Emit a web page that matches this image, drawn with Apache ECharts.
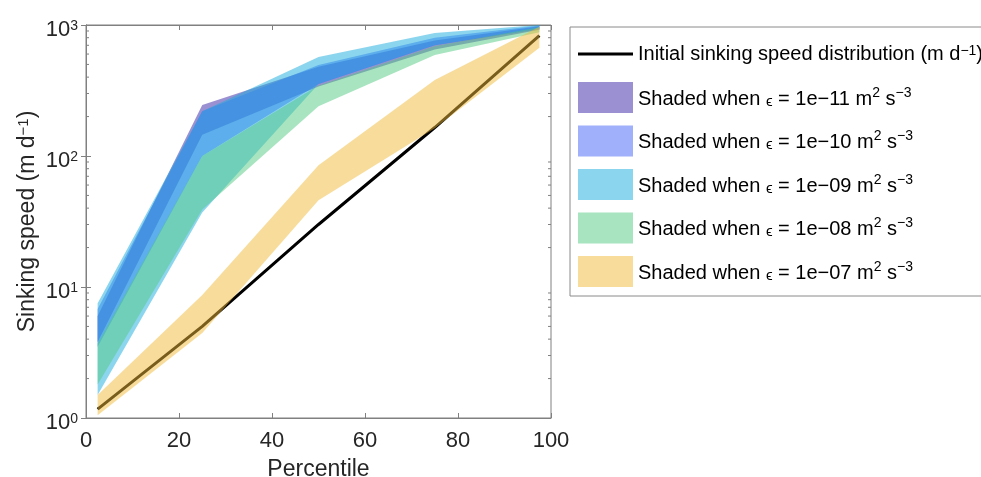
<!DOCTYPE html>
<html>
<head>
<meta charset="utf-8">
<script src="https://cdn.jsdelivr.net/npm/echarts@6/dist/echarts.min.js"></script>
<style>
  html, body { margin: 0; padding: 0; background: #fff; }
  #chart { width: 981px; height: 477px; }
</style>
</head>
<body>
<div id="chart"></div>
<script>
// percentiles where the distribution was sampled
var percentiles = [2.5, 25, 50, 75, 97.5];

// initial sinking speed (m/d)
var initialSpeed = [1.17, 5, 30, 165, 830];

// shaded envelopes per dissipation rate: lower / upper bounds
var eps11Lower = [3.8, 145, 340, 650, 920];
var eps11Upper = [6.0, 245, 480, 760, 980];
var eps10Lower = [3.5, 100, 355, 700, 930];
var eps10Upper = [6.8, 220, 495, 800, 990];
var eps09Lower = [1.5, 37, 355, 700, 940];
var eps09Upper = [7.5, 220, 570, 870, 1000];
var eps08Lower = [1.8, 39, 240, 590, 880];
var eps08Upper = [3.7, 100, 345, 690, 960];
var eps07Lower = [1.05, 4.45, 46, 163, 670];
var eps07Upper = [1.5, 8.7, 85, 380, 970];

var minorTickValues = [2, 3, 4, 5, 6, 7, 8, 9, 20, 30, 40, 50, 60, 70, 80, 90, 200, 300, 400, 500, 600, 700, 800, 900];

var lineName = 'Initial sinking speed distribution (m d^-1)';
var bands = [
  { name: 'Shaded when eps = 1e-11', label: '1e−11', lower: eps11Lower, upper: eps11Upper, color: 'rgba(55,35,165,0.5)' },
  { name: 'Shaded when eps = 1e-10', label: '1e−10', lower: eps10Lower, upper: eps10Upper, color: 'rgba(65,97,245,0.5)' },
  { name: 'Shaded when eps = 1e-09', label: '1e−09', lower: eps09Lower, upper: eps09Upper, color: 'rgba(25,171,221,0.5)' },
  { name: 'Shaded when eps = 1e-08', label: '1e−08', lower: eps08Lower, upper: eps08Upper, color: 'rgba(81,201,129,0.5)' },
  { name: 'Shaded when eps = 1e-07', label: '1e−07', lower: eps07Lower, upper: eps07Upper, color: 'rgba(239,185,57,0.5)' }
];

var legendText = {};
legendText[lineName] = '{t|Initial sinking speed distribution (m d}{s|−1}{t|)}';
bands.forEach(function (b) {
  legendText[b.name] = '{t|Shaded when }{e|ϵ}{t| = ' + b.label + ' m}{s|2}{t| s}{s|−3}';
});

var FONT = '"Liberation Sans", Arial, sans-serif';
var TXT = '#262626';
var AXIS = '#808080';

var series = [];
series.push({
  name: lineName,
  type: 'line',
  data: percentiles.map(function (p, i) { return [p, initialSpeed[i]]; }),
  symbol: 'none',
  lineStyle: { color: '#000', width: 3 },
  itemStyle: { color: '#000' },
  z: 1
});

bands.forEach(function (b) {
  series.push({
    name: b.name,
    type: 'custom',
    itemStyle: { color: b.color },
    data: percentiles.map(function (p, i) { return [p, b.lower[i], b.upper[i]]; }),
    renderItem: function (params, api) {
      if (params.dataIndex !== 0) return null;
      var pts = [];
      percentiles.forEach(function (p, i) { pts.push(api.coord([p, b.upper[i]])); });
      for (var i = percentiles.length - 1; i >= 0; i--) pts.push(api.coord([percentiles[i], b.lower[i]]));
      return {
        type: 'polygon',
        shape: { points: pts },
        style: { fill: b.color, stroke: null }
      };
    },
    z: 2
  });
});

// minor ticks of the log axis, left and right sides of the box
series.push({
  type: 'custom',
  silent: true,
  data: minorTickValues,
  renderItem: function (params, api) {
    var v = api.value(0);
    var l = api.coord([0, v]);
    var r = api.coord([100, v]);
    var st = { stroke: AXIS, lineWidth: 1 };
    return {
      type: 'group',
      children: [
        { type: 'line', shape: { x1: l[0], y1: l[1], x2: l[0] + 3, y2: l[1] }, style: st },
        { type: 'line', shape: { x1: r[0], y1: r[1], x2: r[0] - 3, y2: r[1] }, style: st }
      ]
    };
  },
  encode: { x: -1, y: 0 },
  z: 5
});

var option = {
  animation: false,
  backgroundColor: '#fff',
  grid: {
    left: 86, top: 25, right: 430, bottom: 59,
    outerBoundsMode: 'none', containLabel: false,
    show: true, borderColor: AXIS, borderWidth: 1
  },
  xAxis: [
    {
      type: 'value', min: 0, max: 100, interval: 20,
      name: 'Percentile', nameLocation: 'middle', nameGap: 40,
      nameTextStyle: { fontSize: 23, fontFamily: FONT, color: TXT },
      axisLine: { show: true, lineStyle: { color: AXIS } },
      axisTick: { show: true, inside: true, length: 5, lineStyle: { color: AXIS } },
      axisLabel: { fontSize: 22, fontFamily: FONT, color: TXT, margin: 12 },
      splitLine: { show: false }
    },
    {
      type: 'value', min: 0, max: 100, interval: 20, position: 'top',
      axisLine: { show: true, lineStyle: { color: AXIS } },
      axisTick: { show: true, inside: true, length: 5, lineStyle: { color: AXIS } },
      axisLabel: { show: false },
      splitLine: { show: false }
    }
  ],
  yAxis: [
    {
      type: 'log', logBase: 10, min: 1, max: 1000,
      name: '{t|Sinking speed (m d}{s|−1}{t|)}', nameLocation: 'middle', nameGap: 47, nameRotate: 90,
      nameTextStyle: {
        fontSize: 23, fontFamily: FONT, color: TXT,
        rich: {
          t: { fontSize: 23, fontFamily: FONT, color: TXT, lineHeight: 23, padding: [6, 0, 0, 0], verticalAlign: 'bottom' },
          s: { fontSize: 15, fontFamily: FONT, color: TXT, lineHeight: 15, verticalAlign: 'top' }
        }
      },
      axisLine: { show: true, lineStyle: { color: AXIS } },
      axisTick: { show: true, inside: true, length: 5, lineStyle: { color: AXIS } },
      axisLabel: {
        margin: 8,
        padding: [10, 0, 0, 0],
        formatter: function (v) {
          var e = Math.round(Math.log10(v));
          return '{b|10}{s|' + e + '}';
        },
        rich: {
          b: { fontSize: 22, fontFamily: FONT, color: TXT, lineHeight: 22, padding: [4, 0, 0, 0], verticalAlign: 'bottom' },
          s: { fontSize: 14, fontFamily: FONT, color: TXT, lineHeight: 14, verticalAlign: 'top' }
        }
      },
      splitLine: { show: false }
    },
    {
      type: 'log', logBase: 10, min: 1, max: 1000, position: 'right',
      axisLine: { show: true, lineStyle: { color: AXIS } },
      axisTick: { show: true, inside: true, length: 5, lineStyle: { color: AXIS } },
      axisLabel: { show: false },
      splitLine: { show: false }
    }
  ],
  legend: {
    orient: 'vertical',
    left: 570,
    top: 27,
    padding: [11, 80, 9, 8],
    itemWidth: 55,
    itemHeight: 31,
    itemGap: 12.5,
    borderColor: '#8a8a8a',
    borderWidth: 1,
    backgroundColor: '#fff',
    data: [{ name: lineName, icon: 'path://M0,0 M0,14 L55,14 L55,17 L0,17 Z M55,31' }].concat(bands.map(function (b) {
      return { name: b.name, icon: 'rect' };
    })),
    formatter: function (name) { return legendText[name]; },
    textStyle: {
      fontSize: 20, fontFamily: FONT, color: '#000',
      rich: {
        t: { fontSize: 20, fontFamily: FONT, color: '#000', lineHeight: 20, padding: [6, 0, 0, 0], verticalAlign: 'bottom' },
        s: { fontSize: 14, fontFamily: FONT, color: '#000', lineHeight: 14, verticalAlign: 'top' },
        e: { fontSize: 15, fontFamily: FONT, color: '#000', lineHeight: 23, verticalAlign: 'bottom' }
      }
    }
  },
  series: series
};

var chart = echarts.init(document.getElementById('chart'), null, { renderer: 'canvas' });
chart.setOption(option);
</script>
</body>
</html>
